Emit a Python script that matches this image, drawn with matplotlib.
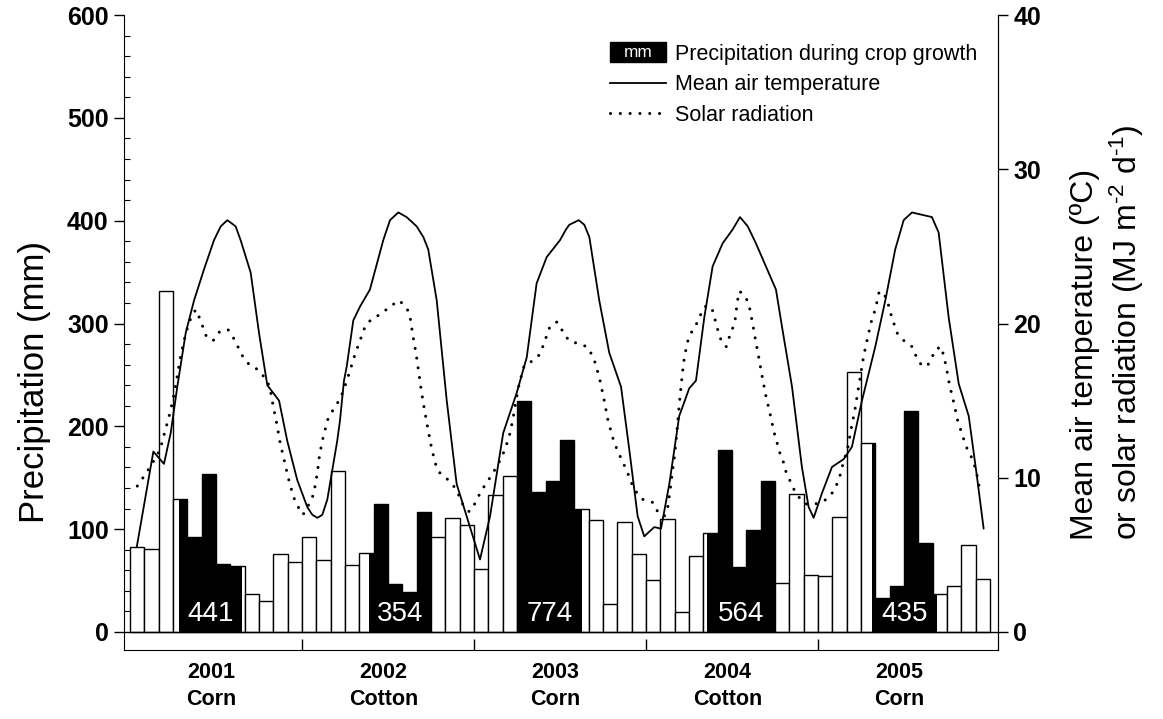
import matplotlib
matplotlib.use('Agg')
import matplotlib.pyplot as plt
import numpy as np
from matplotlib.patches import Rectangle, Patch
from matplotlib.legend_handler import HandlerBase
from matplotlib.lines import Line2D
from matplotlib.text import Text
from matplotlib.transforms import blended_transform_factory

plt.rcParams['font.family'] = ['Liberation Sans', 'DejaVu Sans']
plt.rcParams['mathtext.fontset'] = 'custom'
plt.rcParams['mathtext.rm'] = 'Liberation Sans'
plt.rcParams['mathtext.it'] = 'Liberation Sans:italic'
plt.rcParams['mathtext.bf'] = 'Liberation Sans:bold'

# ---------------- data ----------------
years = ['2001', '2002', '2003', '2004', '2005']
crops = ['Corn', 'Cotton', 'Corn', 'Cotton', 'Corn']

# monthly precipitation (mm), Jan 2001 .. Dec 2005
precip_2001 = [83, 81, 332, 129, 92, 154, 66, 64, 37, 30, 76, 68]
precip_2002 = [92, 70, 157, 65, 77, 124, 47, 39, 117, 92, 111, 104]
precip_2003 = [61, 133, 152, 225, 136, 147, 187, 120, 109, 27, 107, 76]
precip_2004 = [51, 110, 19, 74, 96, 177, 63, 99, 147, 48, 134, 55]
precip_2005 = [54, 112, 253, 184, 33, 45, 215, 87, 37, 45, 85, 52]
precip = precip_2001 + precip_2002 + precip_2003 + precip_2004 + precip_2005

# crop growth period (months since Jan 2001) and precipitation total
crop_start = [3.42, 16.70, 27.00, 40.29, 51.80]
crop_end = [7.79, 21.00, 31.52, 45.00, 56.33]
crop_total = [441, 354, 774, 564, 435]

# mean air temperature (deg C) vs time (months since Jan 2001)
temp_month = [0.47, 1.63, 2.37, 2.84, 3.30, 3.89, 4.47, 5.16, 5.86, 6.33, 6.79, 7.37,
              7.72, 8.42, 9.00, 9.58, 10.40, 10.97, 11.67, 12.37, 12.72, 13.07, 13.42,
              13.77, 14.46, 14.65, 14.93, 15.12, 15.58, 16.05, 16.74, 17.67, 18.14,
              18.72, 19.30, 20.00, 20.47, 20.81, 21.40, 22.10, 22.79, 23.49, 24.42,
              25.12, 26.04, 26.98, 27.68, 28.37, 29.07, 30.00, 30.42, 30.65, 31.31,
              31.70, 32.05, 32.74, 33.44, 34.26, 34.84, 35.42, 35.88, 36.58, 37.05,
              37.63, 38.32, 39.02, 39.49, 40.07, 40.65, 41.35, 42.05, 42.56, 43.10,
              43.67, 44.79, 45.07, 45.49, 46.19, 46.88, 47.35, 47.70, 48.28, 48.98,
              49.79, 50.37, 51.07, 52.00, 52.70, 53.39, 53.98, 54.56, 55.95, 56.42,
              57.12, 57.82, 58.52, 59.09, 59.56]
temp_value = [5.5, 11.7, 10.9, 12.9, 15.9, 19.4, 21.5, 23.5, 25.4, 26.3, 26.7, 26.3,
              25.4, 23.3, 19.4, 16.0, 15.0, 12.4, 9.85, 8.1, 7.6, 7.4, 7.6,
              8.6, 12.4, 13.7, 16.3, 17.2, 20.2, 21.1, 22.2, 25.4, 26.7,
              27.2, 26.9, 26.3, 25.6, 24.8, 21.5, 15.0, 9.6, 7.5, 4.7,
              7.5, 12.9, 15.5, 17.8, 22.6, 24.3, 25.4, 26.1, 26.4, 26.7,
              26.4, 25.6, 21.5, 18.1, 15.9, 11.8, 7.5, 6.2, 6.8, 6.7,
              9.6, 14.0, 15.8, 16.3, 20.4, 23.7, 25.2, 26.1, 26.9, 26.3,
              25.2, 22.8, 22.2, 19.8, 15.9, 10.7, 8.1, 7.4, 9.0, 10.7,
              11.2, 12.0, 15.0, 18.5, 21.5, 24.8, 26.7, 27.2, 26.9, 25.9,
              20.4, 16.1, 14.0, 10.1, 6.7]

# solar radiation (MJ m-2 d-1) vs time (months since Jan 2001)
solar_month = [0.51, 0.98, 1.33, 1.79, 2.09, 2.44, 2.79, 3.07, 3.30, 3.49, 3.77, 4.12,
               4.58, 4.88, 5.35, 5.81, 6.28, 6.84, 7.26, 7.90, 8.35, 8.95, 9.47, 9.75,
               9.98, 10.24, 10.47, 10.74, 11.04, 11.39, 11.67, 12.07, 12.68, 12.84,
               13.07, 13.23, 13.49, 13.84, 14.18, 14.58, 14.88, 15.30, 15.70, 16.17,
               16.40, 16.86, 17.49, 18.14, 18.79, 19.31, 19.53, 19.72, 19.95, 20.14,
               20.30, 20.51, 20.74, 20.98, 21.28, 21.51, 22.05, 22.63, 22.98, 23.25,
               23.67, 24.12, 24.42, 24.82, 25.26, 25.63, 25.97, 26.21, 26.44, 26.70,
               26.91, 27.16, 27.51, 28.14, 28.60, 28.84, 29.30, 29.79, 30.19, 30.61,
               31.24, 31.88, 32.28, 32.51, 32.82, 33.09, 33.33, 33.68, 33.91, 34.19,
               34.49, 34.77, 35.02, 35.30, 35.77, 36.47, 36.82, 37.28, 37.52, 37.70,
               37.86, 38.02, 38.14, 38.25, 38.37, 38.49, 38.63, 38.86, 39.09, 39.49,
               39.77, 40.12, 40.54, 40.74, 40.88, 41.07, 41.28, 41.60, 41.81, 42.05,
               42.23, 42.39, 42.53, 42.97, 43.21, 43.44, 43.67, 43.91, 44.14, 44.37,
               44.67, 44.95, 45.14, 45.30, 45.54, 45.72, 45.96, 46.23, 46.60, 47.18,
               47.81, 48.44, 48.98, 49.33, 49.56, 49.72, 49.91, 50.09, 50.32, 50.56,
               50.77, 50.98, 51.19, 51.47, 51.77, 52.00, 52.28, 52.77, 53.09, 53.51,
               53.98, 54.56, 54.84, 55.14, 55.60, 55.91, 56.19, 56.60, 56.77, 56.93,
               57.16, 57.47, 57.75, 58.17, 58.40, 58.68, 58.92, 59.09, 59.33]
solar_value = [9.46, 10.1, 10.6, 11.3, 11.8, 13.0, 14.2, 15.4, 16.6, 17.7, 18.9, 20.1,
               20.9, 20.3, 19.1, 18.9, 19.5, 19.6, 19.0, 17.8, 17.3, 17.0, 16.4, 15.9,
               14.7, 13.5, 12.3, 11.2, 10.0, 8.8, 8.2, 7.6, 8.6, 9.1,
               10.3, 11.5, 12.7, 13.9, 14.4, 15.0, 15.6, 16.8, 18.0, 19.2,
               19.8, 20.3, 20.6, 21.1, 21.5, 21.0, 20.5, 19.3, 18.1, 16.9,
               15.8, 14.6, 13.4, 12.2, 11.0, 10.4, 10.0, 9.4, 8.8, 8.2,
               7.8, 8.4, 9.0, 9.6, 10.2, 10.8, 11.4, 12.0, 12.6, 13.7,
               14.9, 16.1, 17.3, 17.6, 18.0, 18.6, 19.8, 20.1, 19.5, 18.9,
               18.7, 18.5, 17.9, 17.3, 16.2, 15.0, 13.8, 12.6, 12.0, 11.4,
               10.8, 10.2, 9.6, 9.1, 8.6, 8.4, 7.8, 7.5, 8.1, 9.3,
               10.5, 11.6, 12.8, 14.0, 15.2, 16.3, 17.5, 18.7, 19.3, 19.9,
               20.5, 21.1, 21.1, 20.6, 20.0, 19.4, 18.8, 18.5, 19.1, 19.7,
               20.3, 21.5, 22.1, 21.7, 21.1, 20.0, 18.8, 17.6, 16.4, 15.3,
               14.1, 12.9, 12.3, 11.7, 11.2, 10.5, 10.0, 9.4, 8.8, 8.3,
               8.3, 8.5, 9.0, 9.6, 10.2, 10.8, 11.4, 12.0, 13.2, 14.3,
               15.5, 16.7, 17.9, 19.1, 20.3, 20.9, 22.1, 21.7, 20.6, 19.4,
               18.9, 18.5, 17.9, 17.4, 17.2, 17.7, 18.3, 18.5, 17.9, 17.3,
               16.1, 14.9, 13.7, 12.5, 11.9, 11.4, 10.8, 10.2, 9.0]

# ---------------- figure ----------------
fig = plt.figure(figsize=(11.63, 7.19), dpi=100)
ax = fig.add_axes([0.1066, 0.0960, 0.7515, 0.8831])

months = np.arange(len(precip))
ax.bar(months, precip, width=1.0, align='edge', facecolor='white',
       edgecolor='black', linewidth=1.0, zorder=2)

# black bars: precipitation during crop growth
for s, e, tot in zip(crop_start, crop_end, crop_total):
    for i in months:
        left = max(i, s)
        right = min(i + 1, e)
        if right > left:
            ax.bar(left, precip[i], width=right - left, align='edge',
                   color='black', linewidth=0, zorder=3)
    ax.text((s + e) / 2, 5, str(tot), color='white', fontsize=20,
            ha='center', va='bottom', zorder=6)

ax.axhline(0, color='black', lw=1.0, zorder=4)

ax.set_xlim(-0.42, 60.56)
ax.set_ylim(-17.5, 600)
ax.set_yticks(range(0, 601, 100))
ax.set_yticks(range(0, 601, 20), minor=True)
ax.tick_params(axis='y', which='major', direction='out', length=7, width=1,
               labelsize=18, pad=4)
ax.tick_params(axis='y', which='minor', direction='in', length=4, width=0.8)
for lab in ax.get_yticklabels():
    lab.set_fontweight('bold')

ax.set_xticks([12, 24, 36, 48])
ax.set_xticklabels([])
ax.tick_params(axis='x', which='major', direction='in', length=8, width=1)
ax.spines['top'].set_visible(False)

trans = blended_transform_factory(ax.transData, ax.transAxes)
for k, (yr, cp) in enumerate(zip(years, crops)):
    ax.text(12 * k + 5.7, -0.019, yr + '\n' + cp, transform=trans,
            ha='center', va='top', fontsize=15.5, fontweight='bold', linespacing=1.4)

# right axis: temperature and radiation
ax2 = ax.twinx()
ax2.set_ylim(-17.5 / 15.0, 40)
ax2.plot(temp_month, temp_value, color='black', lw=1.3, zorder=5,
         solid_joinstyle='round', solid_capstyle='round')
ax2.plot(solar_month, solar_value, color='black', lw=2.2,
         linestyle=(0, (0.01, 3.2)), dash_capstyle='round', zorder=5)
ax2.set_yticks([0, 10, 20, 30, 40])
ax2.tick_params(axis='y', which='major', direction='out', length=7, width=1,
                labelsize=18, pad=4)
for lab in ax2.get_yticklabels():
    lab.set_fontweight('bold')
for sp in ['top', 'left', 'bottom']:
    ax2.spines[sp].set_visible(False)

fig.text(35 / 1163, 1 - 382 / 719, 'Precipitation (mm)', rotation=90,
         ha='center', va='center', fontsize=25)
fig.text(1108 / 1163, 1 - 540 / 719,
         'Mean air temperature (ºC)\nor solar radiation (MJ m$^{\\text{-2}}$ d$^{\\text{-1}}$)',
         rotation=90, ha='center', va='bottom', multialignment='left',
         fontsize=23, linespacing=1.25)


# legend with a black "mm" box
class HandlerMM(HandlerBase):
    def create_artists(self, legend, orig_handle, xdescent, ydescent,
                       width, height, fontsize, trans):
        r = Rectangle((-xdescent, -ydescent - 2), width, height + 4,
                      facecolor='black', edgecolor='black', transform=trans)
        t = Text(-xdescent + width / 2, -ydescent + height / 2, 'mm',
                 color='white', ha='center', va='center',
                 fontsize=fontsize * 0.8, transform=trans)
        return [r, t]


h1 = Patch(facecolor='black')
h2 = Line2D([], [], color='black', lw=1.3)
h3 = Line2D([], [], color='black', lw=2.2, linestyle=(0, (0.01, 3.2)),
            dash_capstyle='round')
leg = ax2.legend([h1, h2, h3],
                 ['Precipitation during crop growth', 'Mean air temperature',
                  'Solar radiation'],
                 handler_map={Patch: HandlerMM()},
                 loc='upper right', bbox_to_anchor=(0.976, 0.955),
                 frameon=False, fontsize=15.5, borderpad=0, borderaxespad=0,
                 handlelength=2.6, handletextpad=0.4, labelspacing=0.45)

fig.savefig('out.png', dpi=100)
